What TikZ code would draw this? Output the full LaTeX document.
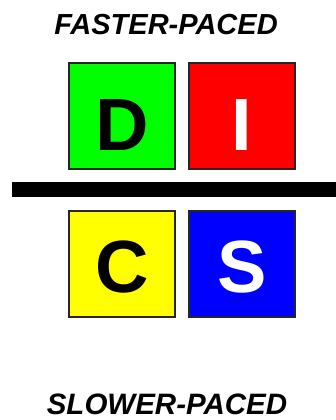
\documentclass[tikz,border=0pt]{standalone}
\usepackage{fontspec}
\setmainfont{Liberation Sans}
\usepackage{tikz}
\usetikzlibrary{positioning}
\definecolor{domgreen}{HTML}{00FF00}
\definecolor{infred}{HTML}{FF0000}
\definecolor{conyellow}{HTML}{FFFF00}
\definecolor{stablue}{HTML}{0000FF}

\begin{document}
\begin{tikzpicture}[x=1pt, y=-1pt,
    every node/.style={font=\bfseries},
    discbox/.style={draw=black!85, line width=1.8pt, rectangle,
                    minimum width=106pt, minimum height=106pt, inner sep=0pt,
                    text depth=0pt,
                    font=\fontsize{74}{74}\selectfont\bfseries},
    pace/.style={font=\fontsize{29.5}{29.5}\selectfont\bfseries\itshape,
                 inner sep=0pt, text depth=0pt}
]
\useasboundingbox (0,0) rectangle (336,420);

\node[pace, font=\fontsize{29}{29}\selectfont\bfseries\itshape] (fast) at (166, 24) {FASTER-PACED};

\node[discbox, text height=68pt, fill=domgreen, text=black] (d) at (122, 116) {D};
\node[discbox, text height=68pt, fill=infred, text=white]   (i) at (242, 116) {I};

% --- dividing bar ---
\fill[black] (12, 182) rectangle (336, 197);

\node[discbox, text height=57pt, fill=conyellow, text=black] (c) at (122, 264) {C};
\node[discbox, text height=57pt, fill=stablue, text=white]   (s) at (242, 264) {S};

\node[pace] (slow) at (167, 404) {SLOWER-PACED};

\end{tikzpicture}
\end{document}
